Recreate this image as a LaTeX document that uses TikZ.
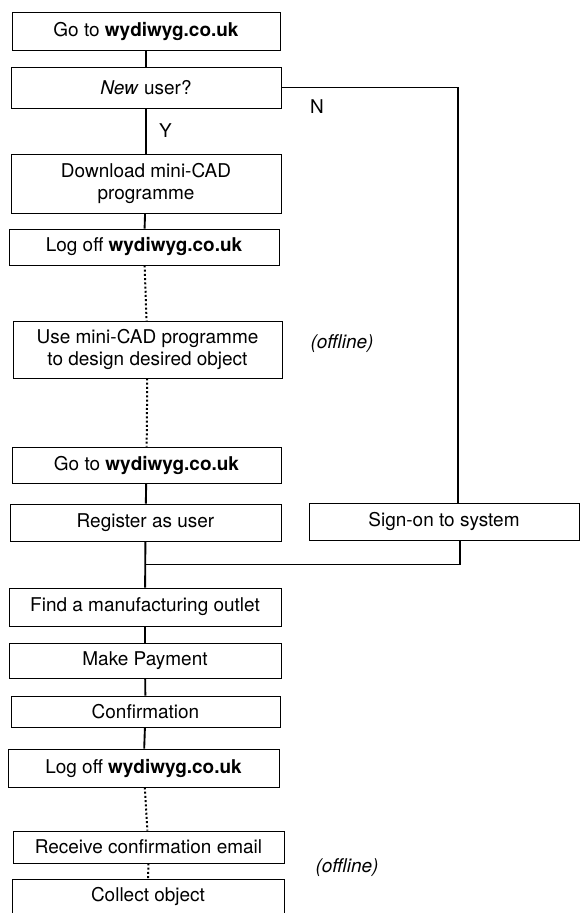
\documentclass[tikz,border=0pt]{standalone}
\usepackage{fontspec}
\setmainfont{TeX Gyre Heros}
\begin{document}
\begin{tikzpicture}[
		stepbox/.style={draw=black, line width=0.8pt, inner sep=0pt, minimum width=8.1cm, align=center, font=\fontsize{16.2}{18}\selectfont},
		flow/.style={black, line width=1.6pt},
		offflow/.style={black, line width=1.7pt, dash pattern=on 1.7pt off 1.9pt},
		offline/.style={font=\fontsize{16.2}{18}\selectfont\itshape}]
			\useasboundingbox (0,0) rectangle (17.37,-27.39);
			
			\node[stepbox, minimum width=8.04cm, minimum height=1.14cm] (go1) at (4.38,-0.93) {Go to \textbf{wydiwyg.co.uk}};
			\node[stepbox, minimum height=1.23cm] (newuser) at (4.38,-2.625) {\emph{New} user?};
			\node[stepbox, minimum height=1.77cm] (download) at (4.38,-5.505) {Download mini-CAD\\programme};
			\node[stepbox, minimum height=1.08cm] (logoff1) at (4.32,-7.41) {Log off \textbf{wydiwyg.co.uk}};
			\node[stepbox, minimum width=8.07cm, minimum height=1.71cm] (usecad) at (4.425,-10.485) {Use mini-CAD programme\\to design desired object};
			\node[stepbox, minimum width=8.07cm, minimum height=1.08cm] (go2) at (4.395,-13.95) {Go to \textbf{wydiwyg.co.uk}};
			\node[stepbox, minimum width=8.13cm, minimum height=1.11cm] (register) at (4.365,-15.675) {Register as user};
			\node[stepbox, minimum height=1.11cm] (signon) at (13.32,-15.645) {Sign-on to system};
			\node[stepbox, minimum width=8.16cm, minimum height=1.14cm] (find) at (4.35,-18.21) {Find a manufacturing outlet};
			\node[stepbox, minimum width=8.16cm, minimum height=1.05cm] (payment) at (4.35,-19.815) {Make Payment};
			\node[stepbox, minimum width=8.07cm, minimum height=0.93cm] (confirm) at (4.365,-21.345) {Confirmation};
			\node[stepbox, minimum width=8.13cm, minimum height=1.14cm] (logoff2) at (4.305,-23.04) {Log off \textbf{wydiwyg.co.uk}};
			\node[stepbox, minimum width=8.13cm, minimum height=0.96cm] (receive) at (4.455,-25.41) {Receive confirmation email};
			\node[stepbox, minimum width=8.16cm, minimum height=1.02cm] (collect) at (4.44,-26.88) {Collect object};
			
			% online part
			\draw[flow] (go1) -- (newuser);
			\draw[flow] (newuser) -- node[right=0.25cm, black, font=\fontsize{16.2}{18}\selectfont] (yes) {Y} (download);
			\draw[flow] (download) -- (logoff1);
			\draw[offflow] (logoff1) -- (usecad);
			\draw[offflow] (usecad) -- (go2);
			\draw[flow] (go2) -- (register);
			
			% returning user
			\coordinate (ncol) at (13.74,0);
			\coordinate (scol) at (13.8,0);
			\draw[flow] (newuser.east) -| (ncol |- signon.north);
			\node[black, font=\fontsize{16.2}{18}\selectfont] (no) at (9.51,-3.21) {N};
			\path (register.south) -- coordinate[pos=0.5] (merge) (find.north);
			\draw[flow] (register) -- (find);
			\draw[flow] (scol |- signon.south) |- (merge);
			
			\draw[flow] (find) -- (payment);
			\draw[flow] (payment) -- (confirm);
			\draw[flow] (confirm) -- (logoff2);
			\draw[offflow] (logoff2) -- (receive);
			\draw[offflow] (receive) -- (collect);
			
			\node[offline] (off1) at (10.26,-10.32) {(offline)};
			\node[offline] (off2) at (10.41,-26.04) {(offline)};
			
		\end{tikzpicture}
\end{document}
